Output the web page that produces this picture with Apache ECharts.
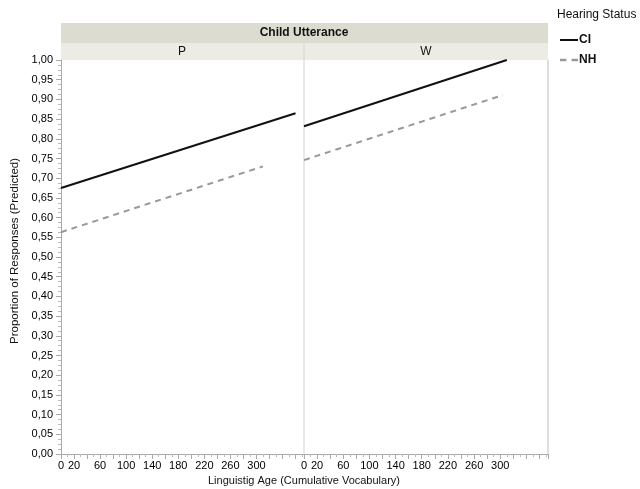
<!DOCTYPE html>
<html>
<head>
<meta charset="utf-8">
<script src="https://cdn.jsdelivr.net/npm/echarts@6/dist/echarts.min.js"></script>
<style>html,body{margin:0;padding:0;background:#fff}#c{width:640px;height:489px}</style>
</head>
<body>
<div id="c"></div>
<script>
// Data (x = cumulative vocabulary, y = predicted proportion)
var panels = ['P', 'W'];
var ciP = [[0, 0.675], [360, 0.865]];
var nhP = [[0, 0.563], [310, 0.730]];
var ciW = [[0, 0.832], [310, 1.000]];
var nhW = [[0, 0.746], [304, 0.911]];
var xShownLabels = [0, 20, 60, 100, 140, 180, 220, 260, 300];
var seriesNames = ['CI', 'NH'];

var FONT = 'Liberation Sans, Arial, sans-serif';
var chart = echarts.init(document.getElementById('c'), null, {renderer: 'canvas'});

function xAxisFor(i) {
  return {
    type: 'value', gridIndex: i, min: 0, max: 373, interval: 20,
    axisLine: {show: true, lineStyle: {color: '#aaa', width: 1}},
    axisTick: {show: true, length: 5, lineStyle: {color: '#aaa'}},
    minorTick: {show: true, splitNumber: 2, length: 3, lineStyle: {color: '#bbb'}},
    splitLine: {show: false},
    axisLabel: {
      color: '#000', fontFamily: FONT, fontSize: 11, margin: 6,
      showMaxLabel: false,
      formatter: function (v) { return xShownLabels.indexOf(v) >= 0 ? String(v) : ''; }
    }
  };
}
function yAxisFor(i) {
  return {
    type: 'value', gridIndex: i, min: 0, max: 1, interval: 0.05,
    axisLine: {show: i === 0, lineStyle: {color: '#aaa', width: 1}},
    axisTick: {show: i === 0, length: 5, lineStyle: {color: '#aaa'}},
    minorTick: {show: i === 0, splitNumber: 4, length: 3, lineStyle: {color: '#bbb'}},
    splitLine: {show: false},
    axisLabel: {
      show: i === 0, color: '#000', fontFamily: FONT, fontSize: 11, margin: 8,
      formatter: function (v) { return v.toFixed(2).replace('.', ','); }
    }
  };
}

var ciStyle = {color: '#111', width: 2, type: 'solid'};
var nhStyle = {color: '#999', width: 2, type: [6, 5]};

var option = {
  animation: false,
  backgroundColor: '#fff',
  grid: [
    {left: 61, top: 60, width: 243, height: 394},
    {left: 304, top: 60, width: 244, height: 394}
  ],
  xAxis: [xAxisFor(0), xAxisFor(1)],
  yAxis: [yAxisFor(0), yAxisFor(1)],
  legend: {
    orient: 'vertical', left: 555, top: 29, itemGap: 8,
    itemWidth: 18, itemHeight: 10,
    textStyle: {color: '#111', fontFamily: FONT, fontSize: 12, fontWeight: 'bold', padding: [0,0,0,-4]},
    data: [
      {name: seriesNames[0], icon: 'path://M0,4 L18,4 L18,6 L0,6 Z', itemStyle: {color: '#111'}},
      {name: seriesNames[1], icon: 'path://M0,4 L5,4 L5,6 L0,6 Z M9,4 L14,4 L14,6 L9,6 Z', itemStyle: {color: '#999'}}
    ]
  },
  graphic: [
    {type: 'rect', shape: {x: 61, y: 23, width: 487, height: 20}, style: {fill: '#dcdcd0'}, z: 0},
    {type: 'rect', shape: {x: 61, y: 43, width: 487, height: 17}, style: {fill: '#ececE4'}, z: 0},
    {type: 'text', x: 304, y: 33, style: {text: 'Child Utterance', fill: '#111', font: 'bold 12px ' + FONT, textAlign: 'center', textVerticalAlign: 'middle'}},
    {type: 'text', x: 182, y: 52, style: {text: panels[0], fill: '#111', font: '12px ' + FONT, textAlign: 'center', textVerticalAlign: 'middle'}},
    {type: 'text', x: 426, y: 52, style: {text: panels[1], fill: '#111', font: '12px ' + FONT, textAlign: 'center', textVerticalAlign: 'middle'}},
    {type: 'line', shape: {x1: 304, y1: 43, x2: 304, y2: 454}, style: {stroke: '#d4d4d4', lineWidth: 1}},
    {type: 'line', shape: {x1: 548, y1: 60, x2: 548, y2: 454}, style: {stroke: '#bbb', lineWidth: 1}},
    {type: 'text', x: 557, y: 15, style: {text: 'Hearing Status', fill: '#111', font: '12px ' + FONT, textAlign: 'left', textVerticalAlign: 'middle'}},
    {type: 'text', x: 304, y: 481, style: {text: 'Linguistig Age (Cumulative Vocabulary)', fill: '#111', font: '11px ' + FONT, textAlign: 'center', textVerticalAlign: 'middle'}},
    {type: 'text', x: 15, y: 251, rotation: Math.PI / 2, style: {text: 'Proportion of Responses (Predicted)', fill: '#111', font: '11.5px ' + FONT, textAlign: 'center', textVerticalAlign: 'middle'}}
  ],
  series: [
    {name: 'CI', type: 'line', xAxisIndex: 0, yAxisIndex: 0, data: ciP, showSymbol: false, lineStyle: ciStyle, itemStyle: {color: '#111'}},
    {name: 'NH', type: 'line', xAxisIndex: 0, yAxisIndex: 0, data: nhP, showSymbol: false, lineStyle: nhStyle, itemStyle: {color: '#999'}},
    {name: 'CI', type: 'line', xAxisIndex: 1, yAxisIndex: 1, data: ciW, showSymbol: false, lineStyle: ciStyle, itemStyle: {color: '#111'}},
    {name: 'NH', type: 'line', xAxisIndex: 1, yAxisIndex: 1, data: nhW, showSymbol: false, lineStyle: nhStyle, itemStyle: {color: '#999'}}
  ]
};
chart.setOption(option);
</script>
</body>
</html>
